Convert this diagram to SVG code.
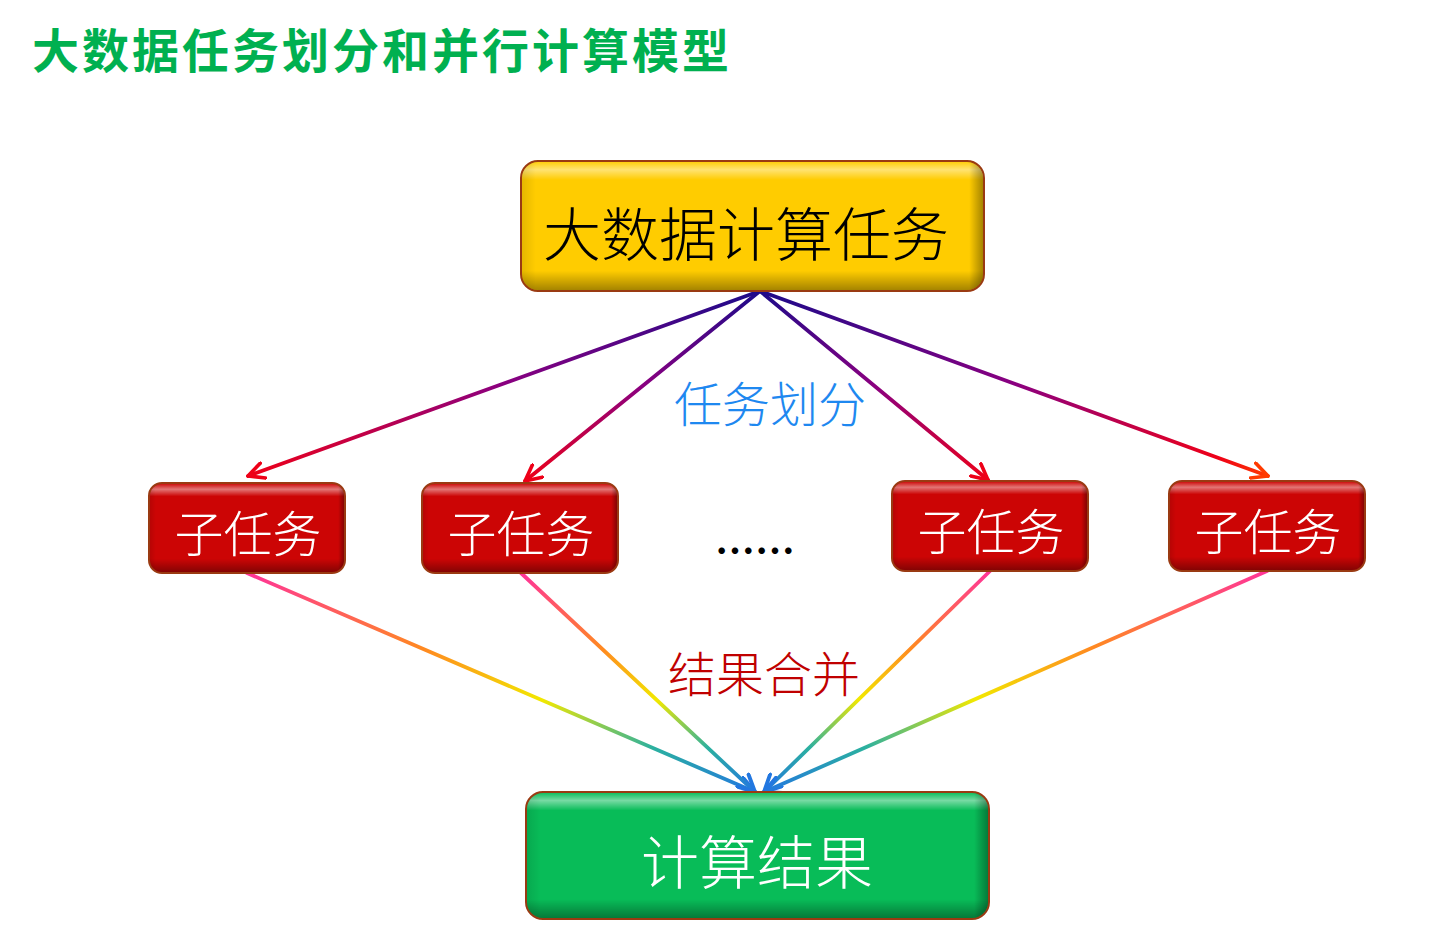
<svg xmlns="http://www.w3.org/2000/svg" width="1432" height="927" viewBox="0 0 1432 927">
<style>
.cjk{font-family:"Noto Sans CJK SC","Noto Sans CJK JP",sans-serif;}
.thin{font-weight:300;}
.lbl{text-anchor:middle;}
.box{stroke:#9a3a12;stroke-width:2;}
.ln{fill:none;stroke-width:3.8;stroke-linecap:round;}
</style>
<defs>
<linearGradient id="bevel" x1="0" y1="0" x2="0" y2="1">
<stop offset="0" stop-color="#fff" stop-opacity="0.05"/>
<stop offset="0.06" stop-color="#fff" stop-opacity="0.45"/>
<stop offset="0.14" stop-color="#fff" stop-opacity="0"/>
<stop offset="0.85" stop-color="#000" stop-opacity="0"/>
<stop offset="1" stop-color="#000" stop-opacity="0.35"/>
</linearGradient>
<linearGradient id="side" x1="0" y1="0" x2="1" y2="0">
<stop offset="0" stop-color="#000" stop-opacity="0.1"/>
<stop offset="0.03" stop-color="#000" stop-opacity="0"/>
<stop offset="0.97" stop-color="#000" stop-opacity="0"/>
<stop offset="1" stop-color="#000" stop-opacity="0.35"/>
</linearGradient>
<marker id="mRed" viewBox="0 0 12 12" refX="11" refY="6" markerWidth="19" markerHeight="19" markerUnits="userSpaceOnUse" orient="auto">
<path d="M1,1 L11,6 L1,11" fill="none" stroke="#ee0018" stroke-width="2.3" stroke-linecap="round" stroke-linejoin="round"/>
</marker>
<marker id="mOrange" viewBox="0 0 12 12" refX="11" refY="6" markerWidth="19" markerHeight="19" markerUnits="userSpaceOnUse" orient="auto">
<path d="M1,1 L11,6 L1,11" fill="none" stroke="#ff3a00" stroke-width="2.3" stroke-linecap="round" stroke-linejoin="round"/>
</marker>
<marker id="mBlue" viewBox="0 0 12 12" refX="11" refY="6" markerWidth="20" markerHeight="20" markerUnits="userSpaceOnUse" orient="auto">
<path d="M1,1 L11,6 L1,11" fill="none" stroke="#2277e0" stroke-width="2.3" stroke-linecap="round" stroke-linejoin="round"/>
</marker>
<linearGradient id="g1" gradientUnits="userSpaceOnUse" x1="760" y1="291" x2="248" y2="476"><stop offset="0" stop-color="#1c0a8a"/><stop offset="0.5" stop-color="#8a0080"/><stop offset="1" stop-color="#ee0018"/></linearGradient>
<linearGradient id="g2" gradientUnits="userSpaceOnUse" x1="760" y1="291" x2="525" y2="481"><stop offset="0" stop-color="#1c0a8a"/><stop offset="0.5" stop-color="#8a0080"/><stop offset="1" stop-color="#ee0018"/></linearGradient>
<linearGradient id="g3" gradientUnits="userSpaceOnUse" x1="760" y1="291" x2="988" y2="480"><stop offset="0" stop-color="#1c0a8a"/><stop offset="0.5" stop-color="#8a0080"/><stop offset="1" stop-color="#ee0018"/></linearGradient>
<linearGradient id="g4" gradientUnits="userSpaceOnUse" x1="760" y1="291" x2="1268" y2="476"><stop offset="0" stop-color="#1c0a8a"/><stop offset="0.5" stop-color="#8a0080"/><stop offset="0.9" stop-color="#ee0018"/><stop offset="1" stop-color="#ff3a00"/></linearGradient>
<linearGradient id="b1" gradientUnits="userSpaceOnUse" x1="247" y1="573" x2="755" y2="792"><stop offset="0" stop-color="#ff3399"/><stop offset="0.35" stop-color="#ff8a20"/><stop offset="0.58" stop-color="#f2e800"/><stop offset="0.8" stop-color="#2bb0a0"/><stop offset="1" stop-color="#2277e0"/></linearGradient>
<linearGradient id="b2" gradientUnits="userSpaceOnUse" x1="521" y1="573" x2="755" y2="792"><stop offset="0" stop-color="#ff3399"/><stop offset="0.35" stop-color="#ff8a20"/><stop offset="0.58" stop-color="#f2e800"/><stop offset="0.8" stop-color="#2bb0a0"/><stop offset="1" stop-color="#2277e0"/></linearGradient>
<linearGradient id="b3" gradientUnits="userSpaceOnUse" x1="990" y1="571" x2="764" y2="792"><stop offset="0" stop-color="#ff3399"/><stop offset="0.35" stop-color="#ff8a20"/><stop offset="0.58" stop-color="#f2e800"/><stop offset="0.8" stop-color="#2bb0a0"/><stop offset="1" stop-color="#2277e0"/></linearGradient>
<linearGradient id="b4" gradientUnits="userSpaceOnUse" x1="1267" y1="571" x2="764" y2="792"><stop offset="0" stop-color="#ff3399"/><stop offset="0.35" stop-color="#ff8a20"/><stop offset="0.58" stop-color="#f2e800"/><stop offset="0.8" stop-color="#2bb0a0"/><stop offset="1" stop-color="#2277e0"/></linearGradient>
</defs>
<rect width="1432" height="927" fill="#fff"/>
<text x="32" y="68" class="cjk" font-size="47" font-weight="700" fill="#00b050" letter-spacing="3">大数据任务划分和并行计算模型</text>

<g id="connectors">
<line class="ln" x1="760" y1="291" x2="248" y2="476" stroke="url(#g1)" marker-end="url(#mRed)"/>
<line class="ln" x1="760" y1="291" x2="525" y2="481" stroke="url(#g2)" marker-end="url(#mRed)"/>
<line class="ln" x1="760" y1="291" x2="988" y2="480" stroke="url(#g3)" marker-end="url(#mRed)"/>
<line class="ln" x1="760" y1="291" x2="1268" y2="476" stroke="url(#g4)" marker-end="url(#mOrange)"/>
<line class="ln" x1="247" y1="573" x2="755" y2="792" stroke="url(#b1)" marker-end="url(#mBlue)"/>
<line class="ln" x1="521" y1="573" x2="755" y2="792" stroke="url(#b2)" marker-end="url(#mBlue)"/>
<line class="ln" x1="990" y1="571" x2="764" y2="792" stroke="url(#b3)" marker-end="url(#mBlue)"/>
<line class="ln" x1="1267" y1="571" x2="764" y2="792" stroke="url(#b4)" marker-end="url(#mBlue)"/>
<text x="770" y="422" class="cjk thin lbl" font-size="48" fill="#1e88f0">任务划分</text>
<text x="764" y="692" class="cjk thin lbl" font-size="48" fill="#c00000">结果合并</text>
<text x="755" y="566" class="cjk lbl" font-size="40" font-weight="700" fill="#000">……</text>
</g>

<g id="node-top">
<rect class="box" x="521" y="161" width="463" height="130" rx="17" fill="#ffcc00"/>
<rect x="522" y="162" width="461" height="128" rx="16" fill="url(#bevel)"/>
<rect x="522" y="162" width="461" height="128" rx="16" fill="url(#side)"/>
<text x="746" y="256" class="cjk thin lbl" font-size="58" fill="#000">大数据计算任务</text>
</g>

<g id="node-sub1">
<rect class="box" x="149" y="483" width="196" height="90" rx="13" fill="#cc0505"/>
<rect x="150" y="484" width="194" height="88" rx="12" fill="url(#bevel)"/>
<rect x="150" y="484" width="194" height="88" rx="12" fill="url(#side)"/>
<text x="248" y="552" class="cjk thin lbl" font-size="49" fill="#fff">子任务</text>
</g>
<g id="node-sub2">
<rect class="box" x="422" y="483" width="196" height="90" rx="13" fill="#cc0505"/>
<rect x="423" y="484" width="194" height="88" rx="12" fill="url(#bevel)"/>
<rect x="423" y="484" width="194" height="88" rx="12" fill="url(#side)"/>
<text x="521" y="552" class="cjk thin lbl" font-size="49" fill="#fff">子任务</text>
</g>
<g id="node-sub3">
<rect class="box" x="892" y="481" width="196" height="90" rx="13" fill="#cc0505"/>
<rect x="893" y="482" width="194" height="88" rx="12" fill="url(#bevel)"/>
<rect x="893" y="482" width="194" height="88" rx="12" fill="url(#side)"/>
<text x="991" y="550" class="cjk thin lbl" font-size="49" fill="#fff">子任务</text>
</g>
<g id="node-sub4">
<rect class="box" x="1169" y="481" width="196" height="90" rx="13" fill="#cc0505"/>
<rect x="1170" y="482" width="194" height="88" rx="12" fill="url(#bevel)"/>
<rect x="1170" y="482" width="194" height="88" rx="12" fill="url(#side)"/>
<text x="1268" y="550" class="cjk thin lbl" font-size="49" fill="#fff">子任务</text>
</g>

<g id="node-result">
<rect class="box" x="526" y="792" width="463" height="127" rx="17" fill="#08bc58"/>
<rect x="527" y="793" width="461" height="125" rx="16" fill="url(#bevel)"/>
<rect x="527" y="793" width="461" height="125" rx="16" fill="url(#side)"/>
<text x="757" y="884" class="cjk thin lbl" font-size="58" fill="#fff">计算结果</text>
</g>
</svg>
